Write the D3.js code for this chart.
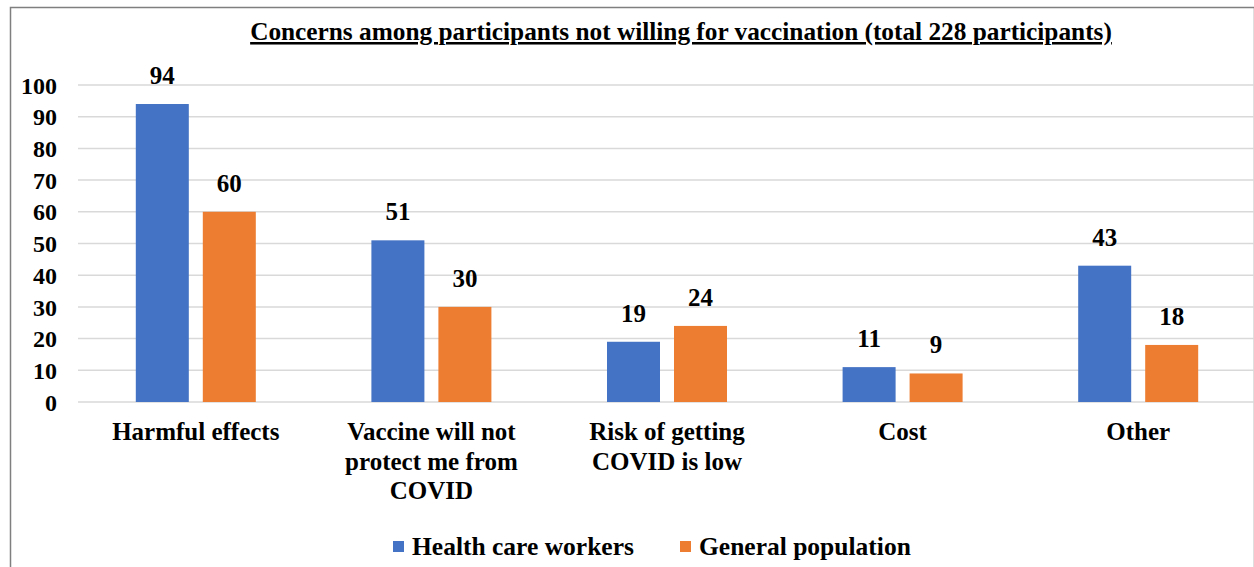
<!DOCTYPE html>
<html>
<head>
<meta charset="utf-8">
<script src="https://cdn.jsdelivr.net/npm/d3@7"></script>
</head>
<body style="margin:0">
<svg id="chart" width="1254" height="567"></svg>
<script>
const categories = [
  ["Harmful effects"],
  ["Vaccine will not", "protect me from", "COVID"],
  ["Risk of getting", "COVID is low"],
  ["Cost"],
  ["Other"]
];
const seriesNames = ["Health care workers", "General population"];
const healthCareWorkers = [94, 51, 19, 11, 43];
const generalPopulation = [60, 30, 24, 9, 18];
const yTicks = [0, 10, 20, 30, 40, 50, 60, 70, 80, 90, 100];
const colors = ["#4472C4", "#ED7D31"];
const title = "Concerns among participants not willing for vaccination (total 228 participants)";

const FONT = "Liberation Serif";
const svg = d3.select("#chart").style("display", "block");
const W = 1254, H = 567;

// apply the serif bold text style
function serif(sel, size) {
  return sel.style("font-family", FONT)
    .attr("font-family", FONT)
    .attr("font-size", size)
    .attr("font-weight", "bold")
    .attr("fill", "#000");
}

// outer frame
svg.append("rect")
  .attr("x", 10.5).attr("y", 7.5)
  .attr("width", W - 10).attr("height", H)
  .attr("fill", "#fff").attr("stroke", "#7f7f7f").attr("stroke-width", 1.5);

const plot = { left: 78, right: 1256, top: 85, bottom: 402 };

const x0 = d3.scaleBand()
  .domain(d3.range(categories.length))
  .range([plot.left, plot.right])
  .paddingInner(0).paddingOuter(0);

const y = d3.scaleLinear().domain([0, 100]).range([plot.bottom, plot.top]);

// gridlines
svg.append("g").selectAll("line")
  .data(yTicks)
  .join("line")
  .attr("x1", plot.left).attr("x2", plot.right)
  .attr("y1", d => y(d)).attr("y2", d => y(d))
  .attr("stroke", "#d9d9d9").attr("stroke-width", 1.5);

// y axis labels
const yAxis = d3.axisLeft(y).tickValues(yTicks).tickSize(0).tickPadding(0);
const gy = svg.append("g").attr("transform", `translate(${57},0)`).call(yAxis);
gy.select(".domain").remove();
gy.attr("font-family", FONT).attr("font-size", 24);
serif(gy.selectAll("text"), 24).attr("dy", "0.34em");

const barW = 53, gap = 14;
const series = [healthCareWorkers, generalPopulation];

series.forEach((vals, si) => {
  const g = svg.append("g");
  const offset = si === 0 ? -(gap / 2 + barW) : gap / 2;
  const cx = i => x0(i) + x0.bandwidth() / 2 + offset;
  g.selectAll("rect")
    .data(vals)
    .join("rect")
    .attr("x", (d, i) => cx(i))
    .attr("y", d => y(d))
    .attr("width", barW)
    .attr("height", d => y(0) - y(d))
    .attr("fill", colors[si]);
  serif(g.selectAll("text")
    .data(vals)
    .join("text")
    .attr("x", (d, i) => cx(i) + barW / 2)
    .attr("y", d => y(d) - 20)
    .attr("text-anchor", "middle"), 25)
    .text(d => d);
});

// category labels
const cat = svg.append("g");
categories.forEach((lines, i) => {
  const t = serif(cat.append("text")
    .attr("x", x0(i) + x0.bandwidth() / 2)
    .attr("y", 440)
    .attr("text-anchor", "middle"), 25);
  lines.forEach((ln, j) => {
    t.append("tspan")
      .attr("x", x0(i) + x0.bandwidth() / 2)
      .attr("dy", j === 0 ? 0 : 29.5)
      .text(ln);
  });
});

// title
serif(svg.append("text")
  .attr("x", 681).attr("y", 40)
  .attr("text-anchor", "middle"), 25.3)
  .attr("text-decoration", "underline")
  .text(title);

// legend
const legend = svg.append("g");
const legendPos = [393, 680];
seriesNames.forEach((name, i) => {
  legend.append("rect")
    .attr("x", legendPos[i]).attr("y", 541)
    .attr("width", 11).attr("height", 11)
    .attr("fill", colors[i]);
  serif(legend.append("text")
    .attr("x", legendPos[i] + 19).attr("y", 555), 25.5)
    .text(name);
});
</script>
</body>
</html>
